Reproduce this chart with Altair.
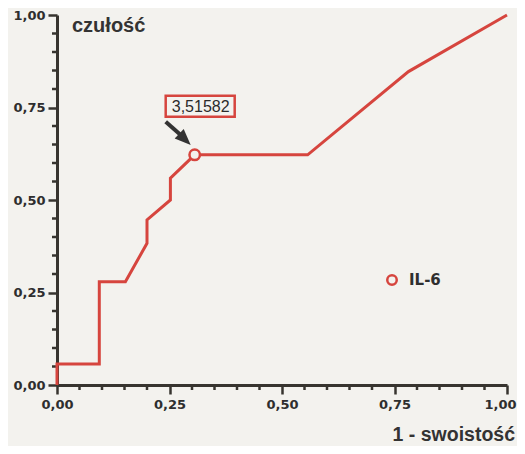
import altair as alt
import pandas as pd

# ROC curve (1 - specificity, sensitivity)
fpr = [0.0, 0.0, 0.094, 0.094, 0.152, 0.200, 0.200, 0.252, 0.252, 0.306, 0.557, 0.781, 1.0]
tpr = [0.0, 0.057, 0.057, 0.279, 0.279, 0.383, 0.446, 0.500, 0.559, 0.622, 0.622, 0.847, 1.0]

cutoff_fpr = [0.306]
cutoff_tpr = [0.622]
cutoff_label = ["3,51582"]

series_name = "IL-6"
y_title = "czułość"
x_title = "1 - swoistość"

major_ticks = [0.0, 0.25, 0.5, 0.75, 1.0]
minor_ticks = [0.05, 0.10, 0.15, 0.20, 0.30, 0.35, 0.40, 0.45,
               0.55, 0.60, 0.65, 0.70, 0.80, 0.85, 0.90, 0.95]

RED = "#d6453e"
DARK = "#37342f"
BG = "#f3f2ee"
W, H = 450, 370

curve = pd.DataFrame({"fpr": fpr, "tpr": tpr, "i": list(range(len(fpr)))})
cut = pd.DataFrame({"fpr": cutoff_fpr, "tpr": cutoff_tpr, "label": cutoff_label})
minor = pd.DataFrame({"v": minor_ticks})

label_expr = "replace(format(datum.value, '.2f'), '.', ',')"
xs = alt.Scale(domain=[0, 1], nice=False, zero=False)
ys = alt.Scale(domain=[0, 1], nice=False, zero=False)

axis_common = dict(
    values=major_ticks, labelExpr=label_expr, title=None, grid=False,
    domainColor=DARK, domainWidth=3, tickColor=DARK, tickWidth=2.5, tickSize=9,
    labelFont="DejaVu Sans", labelFontWeight="bold", labelFontSize=13,
    labelColor="#2e2e2e", labelFlush=False,
)

x_axis = alt.Axis(
    **axis_common, labelPadding=4,
    labelOffset={"condition": {"test": "datum.value >= 1", "value": -7}, "value": 0},
)
y_axis = alt.Axis(**axis_common, labelPadding=3)

line = alt.Chart(curve).mark_line(color=RED, strokeWidth=3).encode(
    x=alt.X("fpr:Q", scale=xs, axis=x_axis),
    y=alt.Y("tpr:Q", scale=ys, axis=y_axis),
    order="i:O",
)

minor_x = alt.Chart(minor).mark_rule(color=DARK, strokeWidth=2.5).encode(
    x=alt.X("v:Q", scale=xs), y=alt.value(H), y2=alt.value(H + 5)
)
minor_y = alt.Chart(minor).mark_rule(color=DARK, strokeWidth=2.5).encode(
    y=alt.Y("v:Q", scale=ys), x=alt.value(0), x2=alt.value(-5)
)

box = alt.Chart(cut).mark_point(
    shape="M-1,-0.304L1,-0.304L1,0.304L-1,0.304Z", size=4761, filled=False,
    stroke=RED, strokeWidth=2.5, xOffset=5.5, yOffset=-48.5, opacity=1,
).encode(x=alt.X("fpr:Q", scale=xs), y=alt.Y("tpr:Q", scale=ys))

box_text = alt.Chart(cut).mark_text(
    font="Liberation Sans", fontSize=16, color="#2b2b2b", dx=6, dy=-48,
    baseline="middle", align="center",
).encode(x=alt.X("fpr:Q", scale=xs), y=alt.Y("tpr:Q", scale=ys), text="label:N")

shaft = alt.Chart(cut).mark_rule(
    color="#333333", strokeWidth=4, xOffset=-29, yOffset=-33, x2Offset=-12, y2Offset=-18,
).encode(
    x=alt.X("fpr:Q", scale=xs), y=alt.Y("tpr:Q", scale=ys),
    x2="fpr:Q", y2="tpr:Q",
)

head = alt.Chart(cut).mark_point(
    shape="M0,-1L0.65,0.6L-0.65,0.6Z", size=400, filled=True, color="#333333",
    angle=134, xOffset=-11.2, yOffset=-16.9, opacity=1,
).encode(x=alt.X("fpr:Q", scale=xs), y=alt.Y("tpr:Q", scale=ys))

marker = alt.Chart(cut).mark_point(
    shape="circle", size=110, filled=True, fill=BG, stroke=RED, strokeWidth=2.5, opacity=1,
).encode(x=alt.X("fpr:Q", scale=xs), y=alt.Y("tpr:Q", scale=ys))

leg = pd.DataFrame({"name": [series_name]})
leg_pt = alt.Chart(leg).mark_point(
    shape="circle", size=90, filled=True, fill=BG, stroke=RED, strokeWidth=2.5, opacity=1,
).encode(x=alt.value(335), y=alt.value(265))
leg_txt = alt.Chart(leg).mark_text(
    font="DejaVu Sans", fontWeight="bold", fontSize=15, color="#2f2f2f",
    align="left", baseline="middle",
).encode(x=alt.value(352), y=alt.value(265), text="name:N")

ytitle = alt.Chart(pd.DataFrame({"t": [y_title]})).mark_text(
    font="Liberation Sans", fontWeight="bold", fontSize=20, color="#333333",
    align="left", baseline="alphabetic",
).encode(x=alt.value(15), y=alt.value(17), text="t:N")
xtitle = alt.Chart(pd.DataFrame({"t": [x_title]})).mark_text(
    font="Liberation Sans", fontWeight="bold", fontSize=19.5, color="#333333",
    align="right", baseline="alphabetic",
).encode(x=alt.value(458), y=alt.value(426), text="t:N")

chart = alt.layer(
    minor_x, minor_y, line, shaft, head, box, box_text, marker,
    leg_pt, leg_txt, ytitle, xtitle,
).properties(
    width=W, height=H,
    autosize=alt.AutoSizeParams(type="none"),
    padding={"left": 49, "top": 7, "right": 10, "bottom": 61},
    background=BG,
).configure_view(stroke=None)

chart.save("out.html", embed_options={"renderer": "svg", "actions": False})
